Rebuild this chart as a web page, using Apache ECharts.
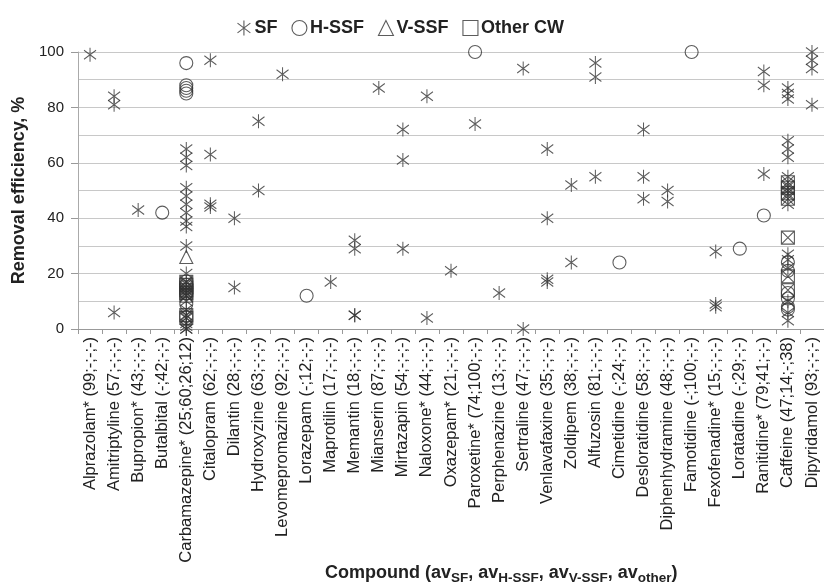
<!DOCTYPE html>
<html>
<head>
<meta charset="utf-8">
<script src="https://cdn.jsdelivr.net/npm/echarts@6/dist/echarts.min.js"></script>
<style>
  html, body { margin: 0; padding: 0; background: #fff; }
  #chart { width: 824px; height: 583px; }
</style>
</head>
<body>
<div id="chart"></div>
<script>
// Compounds with average removal (SF; H-SSF; V-SSF; other)
const compounds = [
  'Alprazolam* (99;-;-;-)', 'Amitriptyline (57;-;-;-)', 'Bupropion* (43;-;-;-)',
  'Butalbital (-;42;-;-)', 'Carbamazepine* (25;60;26;12)', 'Citalopram (62;-;-;-)',
  'Dilantin (28;-;-;-)', 'Hydroxyzine (63;-;-;-)', 'Levomepromazine (92;-;-;-)',
  'Lorazepam (-;12;-;-)', 'Maprotilin (17;-;-;-)', 'Memantin (18;-;-;-)',
  'Mianserin (87;-;-;-)', 'Mirtazapin (54;-;-;-)', 'Naloxone* (44;-;-;-)',
  'Oxazepam* (21;-;-;-)', 'Paroxetine* (74;100;-;-)', 'Perphenazine (13;-;-;-)',
  'Sertraline (47;-;-;-)', 'Venlavafaxine (35;-;-;-)', 'Zoldipem (38;-;-;-)',
  'Alfuzosin (81;-;-;-)', 'Cimetidine (-;24;-;-)', 'Desloratidine (58;-;-;-)',
  'Diphenhydramine (48;-;-;-)', 'Famotidine (-;100;-;-)', 'Fexofenadine* (15;-;-;-)',
  'Loratadine (-;29;-;-)', 'Ranitidine* (79;41;-;-)', 'Caffeine (47;14;-;38)',
  'Dipyridamol (93;-;-;-)'
];

// Removal efficiencies (%) per compound, one list per wetland type
const sfValues = [
  [99], [84, 81, 6], [43], [],
  [65, 62, 59, 51, 48, 45, 42, 39, 37, 30, 20, 17, 15, 14, 13, 12, 10, 7, 5, 4, 2, 1, 0, 0],
  [97, 63, 45, 44], [40, 15], [75, 50], [92], [], [17], [32, 29, 5, 5], [87],
  [72, 61, 29], [84, 4], [21], [74], [13], [94, 0], [65, 40, 18, 17], [52, 24],
  [96, 91, 55], [], [72, 55, 47], [50, 46], [], [28, 9, 8], [], [93, 88, 56],
  [87, 85, 83, 68, 65, 62, 55, 52, 50, 48, 45, 27, 25, 22, 10, 6, 3],
  [100, 97, 94, 81]
];
const hssfValues = [
  [], [], [], [42], [96, 88, 87, 86, 85, 16, 13, 9], [], [], [], [], [12], [], [], [],
  [], [], [], [100], [], [], [], [], [], [24], [], [], [100], [], [29], [41],
  [24, 21, 13, 11, 8, 7], []
];
const vssfValues = [
  [], [], [], [], [26], [], [], [], [], [], [], [], [], [], [], [], [], [], [], [],
  [], [], [], [], [], [], [], [], [], [], []
];
const otherValues = [
  [], [], [], [], [17, 16, 15, 14, 13, 12, 5, 4], [], [], [], [], [], [], [], [], [],
  [], [], [], [], [], [], [], [], [], [], [], [], [], [], [],
  [53, 51, 49, 47, 33, 19, 14], []
];

const yMin = 0, yMax = 100, yStep = 20;

const FONT = '"Liberation Sans", Arial, sans-serif';
const INK = '#333';

const asteriskPath = 'path://M6,0 L6,14 M0,2.5 L12,11.5 M0,11.5 L12,2.5';
const boxCrossPath = 'path://M0,0 L12,0 L12,12 L0,12 Z M0,0 L12,12 M12,0 L0,12';
const boxPath = 'path://M0,0 L12,0 L12,12 L0,12 Z';

function toPoints(lists) {
  const pts = [];
  lists.forEach((vals, i) => vals.forEach(v => pts.push([compounds[i], v])));
  return pts;
}

const hollow = { color: 'none', borderColor: INK, borderWidth: 1.1 };

function scatter(name, lists, symbol, size) {
  return {
    name, type: 'scatter', data: toPoints(lists),
    symbol, symbolSize: size,
    itemStyle: hollow,
    emphasis: { disabled: true },
    clip: false
  };
}

const chart = echarts.init(document.getElementById('chart'), null, { renderer: 'canvas' });
chart.setOption({
  animation: false,
  backgroundColor: '#fff',
  textStyle: { fontFamily: FONT },
  legend: {
    top: 13, left: 230,
    itemWidth: 15, itemHeight: 15, itemGap: 12,
    textStyle: { fontFamily: FONT, fontWeight: 'bold', fontSize: 18, color: '#222', padding: [0, 0, 0, -2] },
    data: [
      { name: 'SF', icon: asteriskPath, itemStyle: hollow },
      { name: 'H-SSF', icon: 'circle', itemStyle: hollow },
      { name: 'V-SSF', icon: 'triangle', itemStyle: hollow },
      { name: 'Other CW', icon: boxPath, itemStyle: hollow }
    ]
  },
  grid: { left: 78, top: 52, width: 752, bottom: 254, containLabel: false },
  xAxis: {
    type: 'category',
    data: compounds,
    boundaryGap: true,
    axisLine: { lineStyle: { color: '#999', width: 1 } },
    axisTick: { show: true, length: 5, lineStyle: { color: '#999' } },
    axisLabel: { rotate: 90, interval: 0, fontSize: 16.5, color: '#222', margin: 8, fontFamily: FONT },
    splitLine: { show: false }
  },
  yAxis: {
    type: 'value',
    min: yMin, max: yMax, interval: yStep,
    axisLine: { show: true, lineStyle: { color: '#aaa' } },
    axisTick: { show: true, length: 7, lineStyle: { color: '#999' } },
    axisLabel: { fontSize: 15, color: '#222', margin: 14, fontFamily: FONT },
    splitLine: { show: true, lineStyle: { color: '#c8c8c8', width: 1.2 } },
    minorTick: { show: false, splitNumber: 2 },
    minorSplitLine: { show: true, lineStyle: { color: '#c8c8c8', width: 1.2 } },
    name: 'Removal efficiency, %',
    nameLocation: 'middle',
    nameGap: 49,
    nameTextStyle: { fontFamily: FONT, fontWeight: 'bold', fontSize: 18, color: '#222' }
  },
  graphic: [{
    type: 'text',
    left: 325, top: 564,
    style: {
      text: '{m|Compound (av}{s|SF}{m|, av}{s|H-SSF}{m|, av}{s|V-SSF}{m|, av}{s|other}{m|)}',
      rich: {
        m: { fontFamily: FONT, fontWeight: 'bold', fontSize: 18, fill: '#222' },
        s: { fontFamily: FONT, fontWeight: 'bold', fontSize: 13.5, fill: '#222', padding: [10, 0, 0, 0] }
      }
    }
  }],
  series: [
    scatter('SF', sfValues, asteriskPath, [12, 14]),
    scatter('H-SSF', hssfValues, 'circle', 13),
    scatter('V-SSF', vssfValues, 'triangle', 13),
    scatter('Other CW', otherValues, boxCrossPath, 13)
  ]
});
</script>
</body>
</html>
